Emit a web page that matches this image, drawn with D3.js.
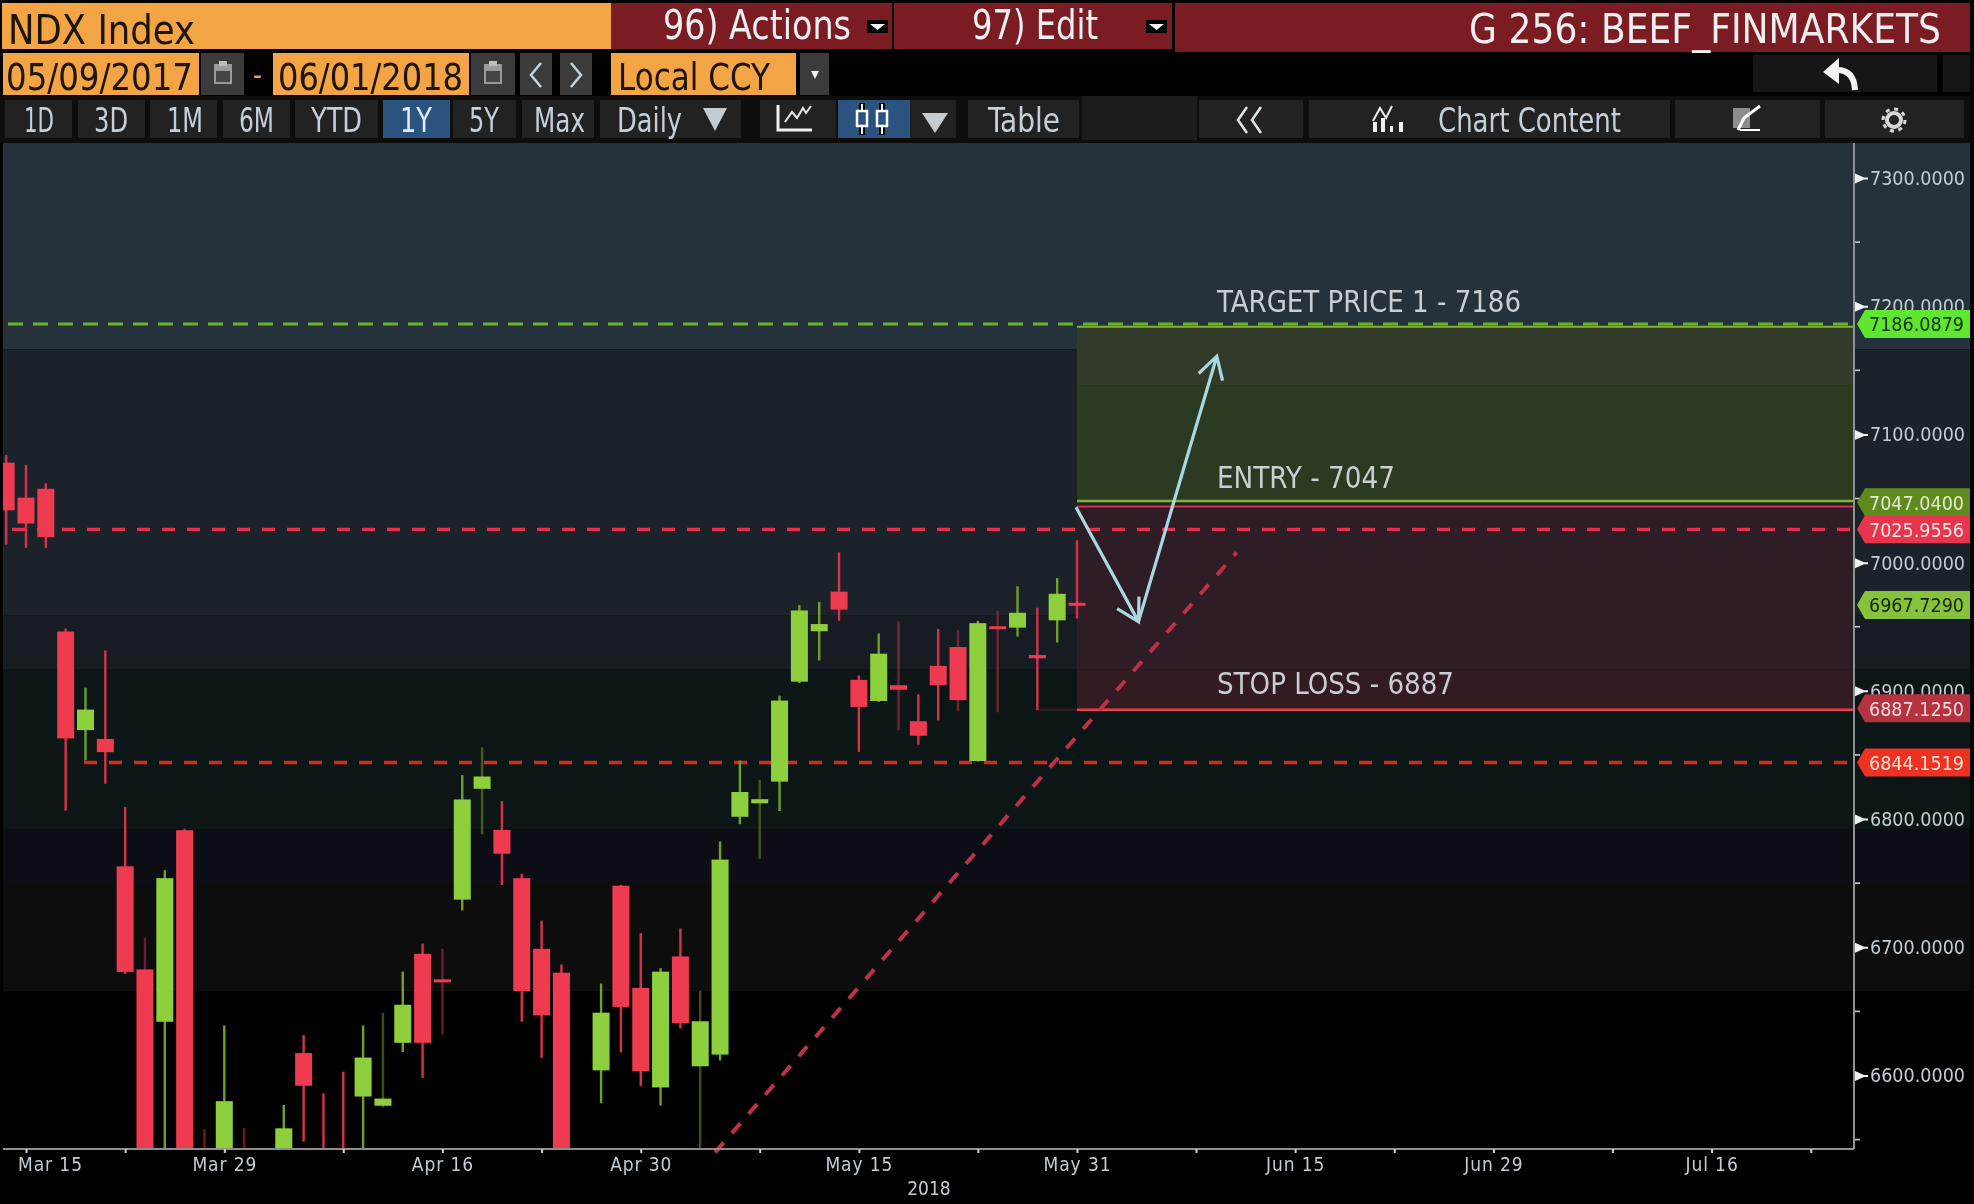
<!DOCTYPE html>
<html>
<head>
<meta charset="utf-8">
<title>NDX Index</title>
<script src="https://cdnjs.cloudflare.com/ajax/libs/d3/7.8.5/d3.min.js"></script>
<style>
  html, body { margin: 0; background: #000; }
  svg { display: block; }
</style>
</head>
<body>
<script>
// trading days, first one is cut by the left edge of the plot
var days = ['Mar 14','Mar 15','Mar 16','Mar 19','Mar 20','Mar 21','Mar 22','Mar 23','Mar 26','Mar 27','Mar 28','Mar 29',
  'Apr 2','Apr 3','Apr 4','Apr 5','Apr 6','Apr 9','Apr 10','Apr 11','Apr 12','Apr 13','Apr 16','Apr 17','Apr 18','Apr 19','Apr 20',
  'Apr 23','Apr 24','Apr 25','Apr 26','Apr 27','Apr 30','May 1','May 2','May 3','May 4','May 7','May 8','May 9','May 10','May 11',
  'May 14','May 15','May 16','May 17','May 18','May 21','May 22','May 23','May 24','May 25','May 29','May 30','May 31'];

// anything under about 6540 is hidden by the axis
var opens  = [7078,7050.7,7057.6,6946.3,6869.4,6862.5,6763.1,6682.7,6641.9,6791.3,6525,6510,6530,6520,6500,6617.5,6530,6530,6583.6,6576.4,6625.5,6694.9,6675,6737.2,6823.6,6791.6,6753.9,6698.8,6680.2,6500,6604,6748,6668.3,6590.7,6692.9,6607.2,6616.3,6801.8,6812.3,6829.2,6907.2,6946.5,6977.4,6908.6,6892.1,6904.4,6876.3,6919.5,6934.2,6845.3,6950.4,6949.3,6928,6955,6968.7];
var highs  = [7083.9,7076.2,7061.8,6948.6,6902.5,6931.5,6809.5,6707.4,6760,6792.4,6558,6639,6559,6535,6577,6631.6,6586,6603,6639,6648.8,6681,6702.9,6699,6834.3,6856,6814,6757.3,6720.8,6686.6,6530,6671.8,6748.7,6711,6683.7,6714.7,6666.2,6782.5,6845.7,6830.6,6896.3,6966.9,6969.4,7008,6912.1,6944.8,6954.3,6897.3,6948.3,6947.2,6954.6,6962.3,6981.6,6964.8,6988,7017.5];
var lows   = [7014,7011.5,7011.5,6806.5,6845.7,6827.5,6679.2,6480,6520,6480,6480,6490,6480,6480,6480,6548.5,6480,6480,6520,6574.9,6618.3,6598.1,6632,6728.8,6788.2,6748.6,6641.9,6613.7,6480,6480,6578.4,6618,6591.7,6576.6,6636.7,6530,6611.7,6796,6769.1,6806.3,6906.1,6923.7,6954.6,6852.4,6891.4,6869.2,6858,6877,6884,6845,6883.3,6942.3,6885,6937.7,6956.4];
var closes = [7040.8,7030.5,7019.9,6862.9,6885.4,6852.2,6680.8,6510,6753.9,6500,6510,6580,6515,6500,6558.8,6592,6510,6510,6614,6582,6655.2,6625.5,6673,6815.3,6833.2,6773,6665.9,6646.9,6500,6490,6649,6653.5,6603.3,6681,6640.9,6642.3,6768.4,6821.1,6815.5,6892.4,6962.7,6952.1,6963.4,6887.5,6929,6900.9,6865,6904.4,6892.8,6952.8,6948.6,6960.9,6925.4,6975.7,6966.5];

var priceTicks = [7300,7200,7100,7000,6900,6800,6700,6600];
var minorTicks = [7250,7150,7050,6950,6850,6750,6650,6550];

// x axis, counted in trading days from Mar 15
var dateTicks  = [0,5,10,16,21,26,31,37,42,48,53,59,64,69,74,80,85,90];
var dateLabels = {0:'Mar 15',10:'Mar 29',21:'Apr 16',31:'Apr 30',42:'May 15',53:'May 31',64:'Jun 15',74:'Jun 29',85:'Jul 16'};

var targetPrice = 7186.0879, entryPrice = 7047.04, resistance = 7025.9556,
    lastPrice = 6967.729, stopPrice = 6887.125, support = 6844.1519;

// background steps of the terminal, price edges and colours
var bandEdges  = [7380,7166.4,6958.6,6917,6792,6750,6726,6666,6400];
var bandColors = ['#26323b','#1b232c','#131a24','#0f1614','#101016','#0a0f0e','#0b0c11','#000002'];

// trendline and drawn arrows as [day, price]
var trendline = [[34.75,6540],[61.05,7008]];
var arrowDown = [[52.95,7043.2],[56.1,6954]];
var arrowUp   = [[56.1,6954],[60.05,7161]];

var rangeLabels = ['1D','3D','1M','6M','YTD','1Y','5Y','Max'];

var width = 1974, height = 1204;
var plot = {left: 3, right: 1854, top: 143, bottom: 1149, edge: 1970};

var x = d3.scaleLinear().domain([0,53]).range([26,1077]);
var y = d3.scaleLinear().domain([7300,6600]).range([178,1075.5]);

var svg = d3.select('body').append('svg')
    .attr('width', width)
    .attr('height', height)
    .style('background', '#000');

var defs = svg.append('defs');
defs.append('filter').attr('id','soft')
    .attr('filterUnits','userSpaceOnUse')
    .attr('x',0).attr('y',0).attr('width',width).attr('height',height)
  .append('feGaussianBlur').attr('stdDeviation',0.75);
defs.append('clipPath').attr('id','plotClip')
  .append('rect')
    .attr('x',plot.left).attr('y',plot.top)
    .attr('width',plot.right-plot.left).attr('height',plot.bottom-plot.top);

var root = svg.append('g').attr('filter','url(#soft)');

var UI_FONT = '"DejaVu Sans Condensed","DejaVu Sans",sans-serif';
var AXIS_FONT = '"DejaVu Sans Condensed","DejaVu Sans",sans-serif';

function box(x0,x1,y0,y1,fill) {
  return root.append('rect')
    .attr('x',x0).attr('y',y0)
    .attr('width',x1-x0).attr('height',y1-y0)
    .attr('fill',fill);
}
// text squeezed to a measured width, the terminal font is narrow
function label(str,x0,x1,cy,size,fill,family) {
  return root.append('text')
    .text(str)
    .attr('x',x0).attr('y',cy)
    .attr('dy','0.36em')
    .attr('textLength',x1-x0)
    .attr('lengthAdjust','spacingAndGlyphs')
    .attr('font-family',family || UI_FONT)
    .attr('font-size',size+'px')
    .attr('fill',fill);
}
function tri(points,fill) {
  return root.append('polygon').attr('points',points).attr('fill',fill);
}
function stroke(d,col,w) {
  return root.append('path').attr('d',d).attr('fill','none')
    .attr('stroke',col).attr('stroke-width',w);
}

/////////////////// header rows

var ORANGE = '#f3a444', MAROON = '#7a1a24', BTN = '#232323', BTN_TXT = '#c3d0dc';

box(2,611,3,49,ORANGE);
box(611,892,3,49,MAROON);
box(894,1172,3,49,MAROON);
box(1175,1970,3,52,MAROON);
label('NDX Index',8,195,30,40,'#1a1206');
label('96) Actions',663,851,25,40,'#eef0f2');
box(867,888,20,33,'#000');
tri('870,24 885,24 877.5,30','#fff');
label('97) Edit',972,1098,25,40,'#eef0f2');
box(1146,1167,20,33,'#000');
tri('1149,24 1164,24 1156.5,30','#fff');
label('G 256: BEEF_FINMARKETS',1469,1941,29,40,'#f0eff0');

box(3,199,53,95,ORANGE);
box(201,244,53,95,'#3b3b3b');
box(273,469,53,95,ORANGE);
box(471,515,53,95,'#3b3b3b');
box(520,552,53,95,'#3b3b3b');
box(560,592,53,95,'#3b3b3b');
box(611,796,53,95,ORANGE);
box(800,829,53,95,'#3b3b3b');
box(1753,1937,55,92,'#161616');
box(1943,1970,55,92,'#161616');
label('05/09/2017',6,193,77,37,'#1a1206');
label('06/01/2018',278,463,77,37,'#1a1206');
label('Local CCY',618,770,77,37,'#1a1206');
label('-',253,262,74,30,ORANGE);
[214,484].forEach(function (cx) {
  box(cx,cx+18,64,84,'#9a9a9a');
  box(cx+2,cx+16,71,82,'#454545');
  box(cx+5,cx+13,61,66,'#bdbdbd');
});
stroke('M541,63 L531,75 L541,87','#c6d4de',2.5);
stroke('M571,63 L581,75 L571,87','#c6d4de',2.5);
tri('811,71 819,71 815,79','#f2f2f2');
// back arrow
tri('1823,72 1839,58 1839,84','#f4f4f4');
stroke('M1837,70 Q1854,70 1855,90','#f4f4f4',6);

box(0,1974,96,143,'#0d0d0d');
var rangeX = [[5,72,24,54],[78,145,94,128],[150,217,167,203],[223,290,239,274],[295,378,311,362],[383,450,400,432],[453,516,469,499],[522,594,534,585]];
rangeLabels.forEach(function (d,i) {
  var r = rangeX[i];
  box(r[0],r[1],100,138,d === '1Y' ? '#2c5280' : BTN);
  label(d,r[2],r[3],120,34,d === '1Y' ? '#e4edf5' : BTN_TXT);
});
box(600,741,100,138,BTN);
label('Daily',617,682,120,34,BTN_TXT);
tri('703,108 727,108 715,131','#c4ccd2');
box(760,836,100,138,BTN);
stroke('M778,105 L778,130 L812,130','#f2f2f2',3);
stroke('M785,122 L792,112 L797,118 L803,108 L806,113 L811,106','#e8e8e8',2);
box(838,910,100,138,'#2c5280');
[862,882].forEach(function (cx) {
  stroke('M'+cx+',103 L'+cx+',135','#000',6);
  stroke('M'+cx+',104 L'+cx+',134','#fff',2);
  root.append('rect').attr('x',cx-5).attr('y',111).attr('width',10).attr('height',15)
    .attr('fill','#2c5280').attr('stroke','#fff').attr('stroke-width',2.5);
});
box(910,956,100,138,BTN);
tri('922,113 948,113 935,133','#c4ccd2');
box(968,1079,100,138,BTN);
label('Table',988,1060,120,34,BTN_TXT);
box(1082,1197,96,140,'#1c1c1c');
box(1199,1303,100,138,BTN);
stroke('M1247,107 L1238,120 L1247,133 M1261,107 L1252,120 L1261,133','#dfe6ea',2.5);
box(1309,1670,100,138,BTN);
stroke('M1373,121 L1380,108 L1386,118 L1392,106','#f0f0f0',2);
box(1373,1377,122,132,'#f0f0f0');
box(1381,1385,118,132,'#f0f0f0');
box(1390,1393,126,132,'#f0f0f0');
box(1399,1403,122,132,'#f0f0f0');
label('Chart Content',1438,1621,120,34,BTN_TXT);
box(1675,1820,100,138,BTN);
box(1733,1750,108,128,'#8d8d8d');
stroke('M1738,130 L1744,118 L1760,106','#fff',3);
stroke('M1740,130 L1760,130','#fff',2);
box(1825,1964,100,138,BTN);
root.append('circle').attr('cx',1894).attr('cy',120).attr('r',7)
  .attr('fill','none').attr('stroke','#d7d7d7').attr('stroke-width',4);
root.append('circle').attr('cx',1894).attr('cy',120).attr('r',11)
  .attr('fill','none').attr('stroke','#d7d7d7').attr('stroke-width',3).attr('stroke-dasharray','4 4.6');

/////////////////// plot background

root.append('g').selectAll('rect')
    .data(bandColors)
    .enter()
    .append('rect')
    .attr('x',plot.left)
    .attr('width',plot.edge-plot.left)
    .attr('y',function (d,i) { return Math.max(plot.top,y(bandEdges[i])); })
    .attr('height',function (d,i) {
      return Math.min(plot.bottom,y(bandEdges[i+1])) - Math.max(plot.top,y(bandEdges[i]));
    })
    .attr('fill',function (d) { return d; });

/////////////////// target and stop zones

var zoneX0 = x(53), zoneX1 = plot.right;
function zone(top,bottom,fill) {
  box(zoneX0,zoneX1,y(top),y(bottom),fill);
}
zone(7184,7138,'#333a2b');
zone(7138,7047,'#2a3a23');
zone(7043.7,6917,'#2f1a27');
zone(6917,6885.3,'#301a20');

function level(value,x0,x1,col,w,dash) {
  var l = root.append('line')
    .attr('x1',x0).attr('x2',x1)
    .attr('y1',y(value)).attr('y2',y(value))
    .attr('stroke',col).attr('stroke-width',w);
  if (dash) l.attr('stroke-dasharray',dash);
  return l;
}
level(7184,zoneX0,zoneX1,'#7fb52e',2);
level(7048,zoneX0,zoneX1,'#82b52c',2.5);
level(7043.7,zoneX0,zoneX1,'#d9304a',2);
level(6885.3,zoneX0,zoneX1,'#ea3a50',2.5);
level(6885.3,x(51),zoneX0,'#3b1d25',2);

level(targetPrice,8,plot.right,'#66b32c',3,'15 10');
level(resistance,12,plot.right,'#ea2f48',3.4,'13 12');
level(support,84,plot.right,'#d42a24',3.4,'13 12');

/////////////////// candles

var candles = root.append('g').attr('clip-path','url(#plotClip)');
var RED = '#ef3a50', GREEN = '#8ecf3d';

// these wicks come out darker in the screenshot
var dimWicks = [7,10,12,19,22,24,35,38,45,48,50];

function barColor(i) { return closes[i] > opens[i] ? GREEN : RED; }

candles.selectAll('line.wick')
    .data(days)
    .enter()
    .append('line')
    .attr('class','wick')
    .attr('x1',function (d,i) { return x(i-1); })
    .attr('x2',function (d,i) { return x(i-1); })
    .attr('y1',function (d,i) { return y(highs[i]); })
    .attr('y2',function (d,i) { return y(lows[i]); })
    .attr('stroke',function (d,i) { return closes[i] > opens[i] ? '#6f9f2a' : '#d8324a'; })
    .attr('stroke-opacity',function (d,i) { return dimWicks.indexOf(i) >= 0 ? 0.5 : 1; })
    .attr('stroke-width',2.4);

candles.selectAll('rect.body')
    .data(days)
    .enter()
    .append('rect')
    .attr('class','body')
    .attr('x',function (d,i) { return x(i-1) - 8.5; })
    .attr('width',17)
    .attr('y',function (d,i) { return y(Math.max(opens[i],closes[i])); })
    .attr('height',function (d,i) { return Math.max(3, Math.abs(y(opens[i])-y(closes[i]))); })
    .attr('fill',function (d,i) { return barColor(i); });

/////////////////// trendline and arrows

function px(p) { return [x(p[0]),y(p[1])]; }

var lineGen = d3.line().x(function (d) { return x(d[0]); }).y(function (d) { return y(d[1]); });

root.append('path')
    .attr('d',lineGen(trendline))
    .attr('fill','none')
    .attr('stroke','#bd304a')
    .attr('stroke-width',4)
    .attr('stroke-dasharray','13 12.5');

function drawArrow(seg) {
  var a = px(seg[0]), b = px(seg[1]);
  var ang = Math.atan2(b[1]-a[1],b[0]-a[0]);
  var barb = 25, spread = 0.52;
  var s = 'M'+a[0]+','+a[1]+' L'+b[0]+','+b[1]
    +' M'+(b[0]-barb*Math.cos(ang-spread))+','+(b[1]-barb*Math.sin(ang-spread))
    +' L'+b[0]+','+b[1]
    +' L'+(b[0]-barb*Math.cos(ang+spread))+','+(b[1]-barb*Math.sin(ang+spread));
  root.append('path').attr('d',s).attr('fill','none')
    .attr('stroke','#a9d8e3').attr('stroke-width',3.2);
}
drawArrow(arrowDown);
drawArrow(arrowUp);

label('TARGET PRICE 1 - 7186',1217,1521,301,31,'#c8ced2');
label('ENTRY - 7047',1217,1395,477,31,'#c8ced2');
label('STOP LOSS - 6887',1217,1683 - 229,683,31,'#c8ced2');

/////////////////// axes

var yAxis = d3.axisRight(y)
    .tickValues(priceTicks)
    .tickSize(0)
    .tickPadding(16)
    .tickFormat(function (d) { return d3.format('.4f')(d); });

var gy = root.append('g')
    .attr('transform','translate('+plot.right+',0)')
    .call(yAxis);
gy.select('.domain').remove();
gy.selectAll('text')
    .attr('font-family',AXIS_FONT)
    .attr('font-size','20px')
    .attr('textLength',95)
    .attr('lengthAdjust','spacingAndGlyphs')
    .attr('fill','#c3ccd4');
gy.selectAll('.tick').append('path')
    .attr('d','M1,-5 L1,5 L10,1 L14,1 L14,-1 L10,-1 Z')
    .attr('fill','#eef1f3');

root.append('g').selectAll('line')
    .data(minorTicks)
    .enter()
    .append('line')
    .attr('x1',plot.right+1).attr('x2',plot.right+6)
    .attr('y1',function (d) { return y(d); })
    .attr('y2',function (d) { return y(d); })
    .attr('stroke','#c4c8cc')
    .attr('stroke-width',1.6);

root.append('line')
    .attr('x1',plot.right).attr('x2',plot.right)
    .attr('y1',plot.top).attr('y2',plot.bottom)
    .attr('stroke','#8d9295').attr('stroke-width',2);

var xAxis = d3.axisBottom(x)
    .tickValues(dateTicks)
    .tickSize(4)
    .tickPadding(5)
    .tickFormat(function (d) { return dateLabels[d] || ''; });

var gx = root.append('g')
    .attr('transform','translate(0,'+plot.bottom+')')
    .call(xAxis);
gx.select('.domain').attr('stroke','#8e8e8e').attr('stroke-width',2)
    .attr('d','M'+plot.left+',0 L'+plot.right+',0');
gx.selectAll('.tick line').attr('stroke','#d0d0d0').attr('stroke-width',2);
gx.selectAll('text')
    .attr('font-family',AXIS_FONT)
    .attr('font-size','19px')
    .attr('letter-spacing','0.9px')
    .attr('fill','#c3ccd4')
    .attr('x',function (d) { return d === 0 ? 24 : 0; });

root.append('text')
    .text('2018')
    .attr('x',929).attr('y',1195)
    .attr('text-anchor','middle')
    .attr('font-family',AXIS_FONT)
    .attr('font-size','19px')
    .attr('fill','#c3ccd4');

/////////////////// price tags on the axis

function tag(value,fill,txt,yoff) {
  var cy = y(value) + (yoff || 0);
  tri('1857,'+cy+' 1865,'+(cy-14)+' 1970,'+(cy-14)+' 1970,'+(cy+14)+' 1865,'+(cy+14),fill);
  root.append('text')
    .text(d3.format('.4f')(value))
    .attr('x',1869).attr('y',cy)
    .attr('dy','0.36em')
    .attr('textLength',95)
    .attr('lengthAdjust','spacingAndGlyphs')
    .attr('font-family',AXIS_FONT)
    .attr('font-size','20px')
    .attr('fill',txt);
}
tag(targetPrice,'#5fe62f','#12300a');
tag(entryPrice,'#5f8a1e','#e3ead2');
tag(resistance,'#e8364e','#f6e6e6');
tag(lastPrice,'#86c23a','#16260a',1);
tag(stopPrice,'#b5303f','#f0dcdc',1);
tag(support,'#ee3020','#fbe2d8');

// dark frame down the right side
box(1970,1974,0,1204,'#000');
box(0,3,143,1204,'#000');
</script>
</body>
</html>
